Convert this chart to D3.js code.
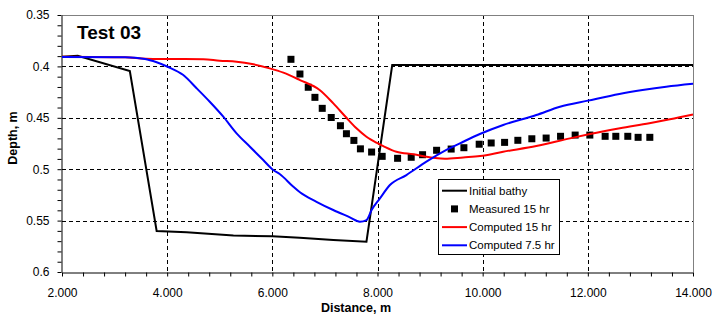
<!DOCTYPE html>
<html>
<head>
<meta charset="utf-8">
<script src="https://cdn.jsdelivr.net/npm/d3@7"></script>
<style>
  html, body { margin: 0; padding: 0; background: #fff; }
  svg { display: block; font-family: Arial, "Liberation Sans", sans-serif; }
</style>
</head>
<body>
<svg id="chart" width="721" height="324"></svg>
<script>
// ---- Data ----
const xTickValues = [2, 4, 6, 8, 10, 12, 14];
const xTickLabels = ["2.000", "4.000", "6.000", "8.000", "10.000", "12.000", "14.000"];
const yTickValues = [0.35, 0.4, 0.45, 0.5, 0.55, 0.6];
const yTickLabels = ["0.35", "0.4", "0.45", "0.5", "0.55", "0.6"];

const bathyX = [2.0, 2.3, 3.29, 3.8, 4.37, 5.26, 6.0, 6.52, 7.16, 7.79, 8.28, 14.0];
const bathyY = [0.3906, 0.3896, 0.4045, 0.5601, 0.5614, 0.5644, 0.5653, 0.5667, 0.5689, 0.5705, 0.3987, 0.3987];

const measX = [6.354, 6.525, 6.683, 6.810, 6.949, 7.120, 7.295, 7.409, 7.551, 7.675, 7.888, 8.089, 8.382, 8.641,
               8.857, 9.124, 9.401, 9.643, 9.934, 10.162, 10.417, 10.669, 10.935, 11.207, 11.481, 11.759,
               12.038, 12.329, 12.532, 12.760, 12.956, 13.179];
const measY = [0.3931, 0.4074, 0.4203, 0.4301, 0.4408, 0.4497, 0.4577, 0.4655, 0.4720, 0.4802, 0.4833, 0.4875,
               0.4894, 0.4884, 0.4859, 0.4816, 0.4804, 0.4791, 0.4757, 0.4745, 0.4739, 0.4719, 0.4704, 0.4697,
               0.4680, 0.4668, 0.4668, 0.4680, 0.4680, 0.4680, 0.4690, 0.4690];

const comp15X = [2.0, 3.2, 3.6, 4.05, 4.69, 5.0, 5.32, 5.64, 5.95, 6.21, 6.525, 6.9, 7.16, 7.41, 7.60, 7.79,
                 7.98, 8.11, 8.36, 8.68, 9.06, 9.28, 9.63, 9.95, 10.39, 11.02, 11.66, 12.04, 12.61, 13.17, 13.56, 14.0];
const comp15Y = [0.3906, 0.3912, 0.3925, 0.3928, 0.3931, 0.3945, 0.3954, 0.3980, 0.4019, 0.4061, 0.4133, 0.4230,
                 0.4360, 0.4500, 0.4602, 0.4684, 0.4742, 0.4775, 0.4830, 0.4855, 0.4888, 0.4898, 0.4885, 0.4872,
                 0.4830, 0.4775, 0.4700, 0.4658, 0.4602, 0.4553, 0.4515, 0.4468];

const comp75X = [2.0, 3.2, 3.58, 3.8, 4.02, 4.3, 4.56, 4.81, 5.067, 5.32, 5.574, 5.827, 6.017, 6.14, 6.40, 6.525,
                 6.84, 7.158, 7.475, 7.665, 7.79, 7.888, 8.046, 8.236, 8.55, 8.93, 9.31, 9.63, 9.947, 10.39,
                 11.02, 11.47, 12.0, 12.6, 13.04, 13.49, 14.0];
const comp75Y = [0.3909, 0.3912, 0.3928, 0.3960, 0.4006, 0.4082, 0.4213, 0.4344, 0.4489, 0.4651, 0.4781, 0.4911,
                 0.5008, 0.5047, 0.5171, 0.5225, 0.5317, 0.5397, 0.5468, 0.5511, 0.5495, 0.5397, 0.5284, 0.5154,
                 0.5057, 0.4927, 0.4813, 0.4733, 0.4658, 0.4570, 0.4473, 0.4392, 0.4333, 0.4268, 0.4230, 0.4197,
                 0.4168];

const seriesNames = ["Initial bathy", "Measured 15 hr", "Computed 15 hr", "Computed 7.5 hr"];
const seriesColors = ["#000000", "#000000", "#ff0000", "#0000ff"];

// ---- Layout ----
const svg = d3.select("#chart");
const pLeft = 62, pRight = 693, pTop = 15, pBottom = 272;

const x = d3.scaleLinear().domain([2, 14]).range([pLeft, pRight]);
const y = d3.scaleLinear().domain([0.35, 0.6]).range([pTop, pBottom]);

const xMinor = d3.range(0, 31).map(i => +(2 + i * 0.4).toFixed(2));
const yMinor = d3.range(0, 26).map(i => +(0.35 + i * 0.01).toFixed(3));

// Grid (dashed)
const grid = svg.append("g");
grid.selectAll("line.vx").data(xTickValues.slice(1, -1)).join("line")
  .attr("x1", d => Math.round(x(d)) + 0.5).attr("x2", d => Math.round(x(d)) + 0.5)
  .attr("y1", pTop).attr("y2", pBottom)
  .attr("stroke", "#000").attr("stroke-width", 1).attr("stroke-dasharray", "4,3");
grid.selectAll("line.hy").data(yTickValues.slice(1, -1)).join("line")
  .attr("y1", d => Math.round(y(d)) + 0.5).attr("y2", d => Math.round(y(d)) + 0.5)
  .attr("x1", pLeft).attr("x2", pRight)
  .attr("stroke", "#000").attr("stroke-width", 1).attr("stroke-dasharray", "4,3");

// Gray frame top/right
svg.append("line").attr("x1", pLeft).attr("x2", pRight + 0.5).attr("y1", pTop + 0.5).attr("y2", pTop + 0.5)
  .attr("stroke", "#808080");
svg.append("line").attr("x1", pRight + 0.5).attr("x2", pRight + 0.5).attr("y1", pTop).attr("y2", pBottom)
  .attr("stroke", "#808080");

// Axes
function xLabel(d) {
  const i = xTickValues.findIndex(v => Math.abs(v - d) < 1e-6);
  return i >= 0 ? xTickLabels[i] : "";
}
function yLabel(d) {
  const i = yTickValues.findIndex(v => Math.abs(v - d) < 1e-6);
  return i >= 0 ? yTickLabels[i] : "";
}

const xAxis = d3.axisBottom(x).tickValues(xMinor).tickSizeInner(4).tickSizeOuter(0).tickPadding(12)
  .tickFormat(xLabel);
const yAxis = d3.axisLeft(y).tickValues(yMinor).tickSizeInner(4).tickSizeOuter(0).tickPadding(8)
  .tickFormat(yLabel);

const gx = svg.append("g").attr("transform", `translate(0,${pBottom + 0.5})`).call(xAxis);
const gy = svg.append("g").attr("transform", `translate(${pLeft - 0.5},0)`).call(yAxis);
[gx, gy].forEach(g => {
  g.select(".domain").attr("stroke", "#000");
  g.selectAll(".tick line").attr("stroke", "#000");
  g.selectAll(".tick text").attr("fill", "#000").attr("font-size", 12)
    .attr("font-family", "Arial, 'Liberation Sans', sans-serif");
});

// Clip
svg.append("clipPath").attr("id", "plotclip").append("rect")
  .attr("x", pLeft).attr("y", pTop - 5).attr("width", pRight - pLeft + 4).attr("height", pBottom - pTop + 10);

const plot = svg.append("g").attr("clip-path", "url(#plotclip)");
const lineGen = d3.line().x(d => x(d[0])).y(d => y(d[1]));
const smoothGen = d3.line().x(d => x(d[0])).y(d => y(d[1])).curve(d3.curveMonotoneX);

plot.append("path").datum(d3.zip(bathyX, bathyY)).attr("d", lineGen)
  .attr("fill", "none").attr("stroke", seriesColors[0]).attr("stroke-width", 2);

plot.selectAll("rect.meas").data(d3.zip(measX, measY)).join("rect")
  .attr("x", d => x(d[0]) - 3.5).attr("y", d => y(d[1]) - 3.5)
  .attr("width", 7).attr("height", 7).attr("fill", seriesColors[1]);

plot.append("path").datum(d3.zip(comp15X, comp15Y)).attr("d", smoothGen)
  .attr("fill", "none").attr("stroke", seriesColors[2]).attr("stroke-width", 2);

plot.append("path").datum(d3.zip(comp75X, comp75Y)).attr("d", smoothGen)
  .attr("fill", "none").attr("stroke", seriesColors[3]).attr("stroke-width", 2);

// Title
svg.append("text").attr("x", 77).attr("y", 39).attr("font-size", 19).attr("font-weight", "bold")
  .attr("fill", "#000").text("Test 03");

// Axis titles
svg.append("text").attr("x", 356).attr("y", 312).attr("text-anchor", "middle")
  .attr("font-size", 12.5).attr("font-weight", "bold").text("Distance, m");
svg.append("text").attr("transform", "translate(17,138) rotate(-90)").attr("text-anchor", "middle")
  .attr("font-size", 12.5).attr("font-weight", "bold").text("Depth, m");

// Legend
const lg = svg.append("g");
lg.append("rect").attr("x", 438.5).attr("y", 179.5).attr("width", 121).attr("height", 75)
  .attr("fill", "#fff").attr("stroke", "#000").attr("stroke-width", 1);
const rowsY = [190.7, 208.9, 227.1, 245.3];
seriesNames.forEach((name, i) => {
  const ry = rowsY[i];
  if (i === 1) {
    lg.append("rect").attr("x", 451).attr("y", ry - 3.5).attr("width", 7).attr("height", 7).attr("fill", seriesColors[i]);
  } else {
    lg.append("line").attr("x1", 442).attr("x2", 467).attr("y1", ry).attr("y2", ry)
      .attr("stroke", seriesColors[i]).attr("stroke-width", 2);
  }
  lg.append("text").attr("x", 469).attr("y", ry).attr("dy", "0.35em").attr("font-size", 11.5)
    .attr("fill", "#000").text(name);
});
</script>
</body>
</html>
